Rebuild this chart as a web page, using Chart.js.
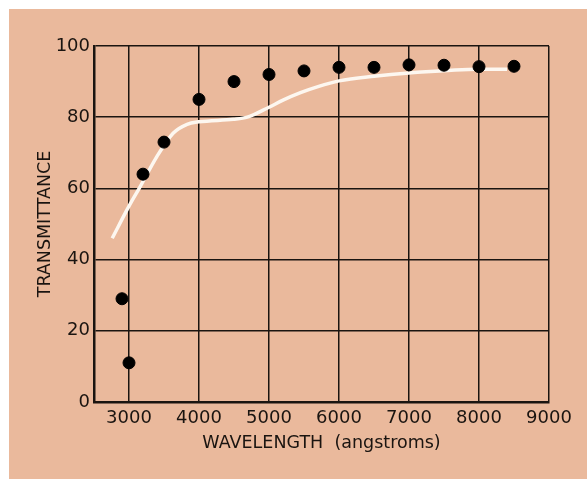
<!DOCTYPE html>
<html>
<head>
<meta charset="utf-8">
<script src="https://cdn.jsdelivr.net/npm/chart.js@4/dist/chart.umd.min.js"></script>
<style>
    html, body { margin: 0; padding: 0; background: #ffffff; }
    #wrap {
        position: absolute;
        left: 9px;
        top: 9px;
        width: 578px;
        height: 470px;
        background: #eab99c;
    }
</style>
</head>
<body>
<div id="wrap"><canvas id="transChart"></canvas></div>
<script>
// measured transmittance (dots)
const dotWavelength = [2900, 3000, 3200, 3500, 4000, 4500, 5000, 5500, 6000, 6500, 7000, 7500, 8000, 8500];
const dotTransmittance = [29, 11, 64, 73, 85, 90, 92, 93, 94, 94, 94.7, 94.6, 94.2, 94.3];

// smooth white curve
const curveWavelength = [2760, 3000, 3160, 3400, 3630, 3830, 4000, 4490, 4690, 5000, 5200, 5450, 5700, 6000, 6500, 7000, 8000, 8400];
const curveTransmittance = [46, 55, 60.5, 69, 75.5, 78, 78.7, 79.4, 80, 82.8, 84.8, 86.9, 88.6, 90.2, 91.5, 92.4, 93.5, 93.5];

const xTicks = [3000, 4000, 5000, 6000, 7000, 8000, 9000];
const yTicks = [0, 20, 40, 60, 80, 100];

const tickFont = { family: 'DejaVu Sans', size: 18 };
const titleFont = { family: 'DejaVu Sans', size: 17.5 };

let transChart = new Chart(document.getElementById('transChart'), {
    type: 'scatter',
    data: {
        datasets: [
            {
                label: 'Measured',
                data: dotWavelength.map((w, i) => ({ x: w, y: dotTransmittance[i] })),
                backgroundColor: '#000000',
                borderColor: '#000000',
                pointRadius: 6,
                pointHoverRadius: 6,
                showLine: false,
            },
            {
                label: 'Curve',
                data: curveWavelength.map((w, i) => ({ x: w, y: curveTransmittance[i] })),
                borderColor: '#fdf7f0',
                borderWidth: 3.5,
                pointRadius: 0,
                showLine: true,
                cubicInterpolationMode: 'monotone',
                fill: false,
            }
        ]
    },
    options: {
        responsive: true,
        maintainAspectRatio: false,
        animation: false,
        layout: { padding: { left: 0, top: 37, right: 38, bottom: 0 } },
        plugins: {
            legend: { display: false },
            tooltip: { enabled: false }
        },
        scales: {
            x: {
                type: 'linear',
                min: 2500,
                max: 9000,
                afterBuildTicks: scale => { scale.ticks = xTicks.map(v => ({ value: v })); },
                afterFit: scale => { scale.height = 77; },
                grid: { color: '#1a1410', lineWidth: 1.5, drawTicks: false },
                border: { color: '#1a1410', width: 2.5 },
                ticks: {
                    color: '#1a1410',
                    font: tickFont,
                    padding: 6,
                    maxRotation: 0,
                    callback: value => String(value)
                },
                title: {
                    display: true,
                    text: 'WAVELENGTH  (angstroms)',
                    color: '#1a1410',
                    font: titleFont,
                    padding: { top: 0, bottom: 25 }
                }
            },
            y: {
                min: 0,
                max: 100,
                afterBuildTicks: scale => { scale.ticks = yTicks.map(v => ({ value: v })); },
                afterFit: scale => { scale.width = 85; },
                grid: { color: '#1a1410', lineWidth: 1.5, drawTicks: false },
                border: { color: '#1a1410', width: 2.5 },
                ticks: { color: '#1a1410', font: tickFont, padding: 4 },
                title: {
                    display: true,
                    text: 'TRANSMITTANCE',
                    color: '#1a1410',
                    font: titleFont,
                    padding: { top: 26, bottom: 0 }
                }
            }
        }
    }
});
</script>
</body>
</html>
